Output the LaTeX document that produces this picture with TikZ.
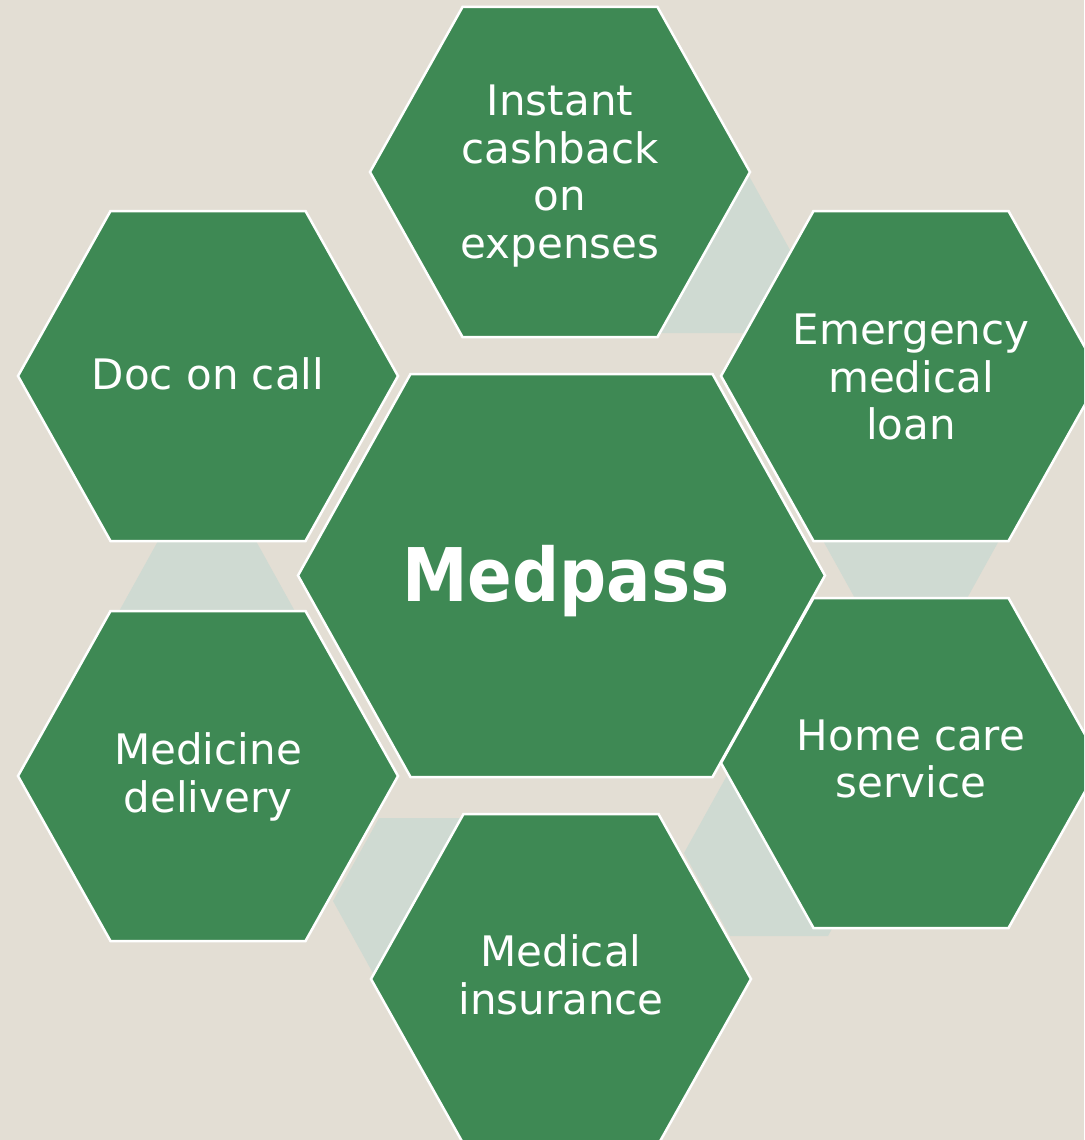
\documentclass[tikz,border=0pt]{standalone}
\usepackage{fontspec}
\setmainfont{DejaVu Sans}
\usepackage{graphicx}
\definecolor{bgbeige}{RGB}{227,222,212}
\definecolor{hexgreen}{RGB}{62,137,84}
\definecolor{connfill}{RGB}{207,218,210}
\tikzset{
  hexbox/.style={fill=hexgreen, draw=white, line width=2.5pt, line join=miter},
  linkbox/.style={fill=connfill},
  outertext/.style={text=white, font=\fontsize{42}{47.5}\selectfont, align=center, inner sep=0pt},
  centertext/.style={text=white, font=\fontsize{74}{80}\selectfont\bfseries, inner sep=0pt},
}
% style, cx, cy, half top edge, half width, half height
\newcommand\hexpath[6]{%
  \path[#1, shift={(#2,#3)}] (-#5,0) -- (-#4,-#6) -- (#4,-#6) -- (#5,0) -- (#4,#6) -- (-#4,#6) -- cycle;}
\begin{document}
\begin{tikzpicture}[x=1pt, y=-1pt]
  \useasboundingbox (0,0) rectangle (1084,1140);
  \clip (0,0) rectangle (1084,1140);
  \fill[bgbeige] (0,0) rectangle (1084,1140);
  % light connector hexagons (behind)
  \hexpath{linkbox}{695}{250}{49}{95}{83}
  \hexpath{linkbox}{911}{528}{49}{95}{83}
  \hexpath{linkbox}{779}{853}{49}{95}{83}
  \hexpath{linkbox}{428}{901}{49}{95}{83}
  \hexpath{linkbox}{207}{624}{49}{95}{83}
  % centre hexagon
  \hexpath{hexbox}{561.5}{575.5}{151}{263.5}{201.5}
  % outer hexagons
  \hexpath{hexbox}{560}{172}{97.5}{190}{165}
  \hexpath{hexbox}{911}{376}{97.5}{190}{165}
  \hexpath{hexbox}{911}{763}{97.5}{190}{165}
  \hexpath{hexbox}{561}{979}{97.5}{190}{165}
  \hexpath{hexbox}{208}{776}{97.5}{190}{165}
  \hexpath{hexbox}{208}{376}{97.5}{190}{165}
  % texts
  \node[centertext, anchor=base] (medpass) at (566,601) {\scalebox{0.89}[1]{Medpass}};
  \node[outertext] (cashback) at (560,176) {Instant\\cashback\\on\\expenses};
  \node[outertext] (loan) at (911,377) {Emergency\\medical\\loan};
  \node[outertext] (homecare) at (911,759) {Home care\\service};
  \node[outertext] (insurance) at (561,975) {Medical\\insurance};
  \node[outertext] (delivery) at (208,777) {Medicine\\delivery};
  \node[outertext] (doc) at (208,374) {Doc on call};
\end{tikzpicture}
\end{document}
